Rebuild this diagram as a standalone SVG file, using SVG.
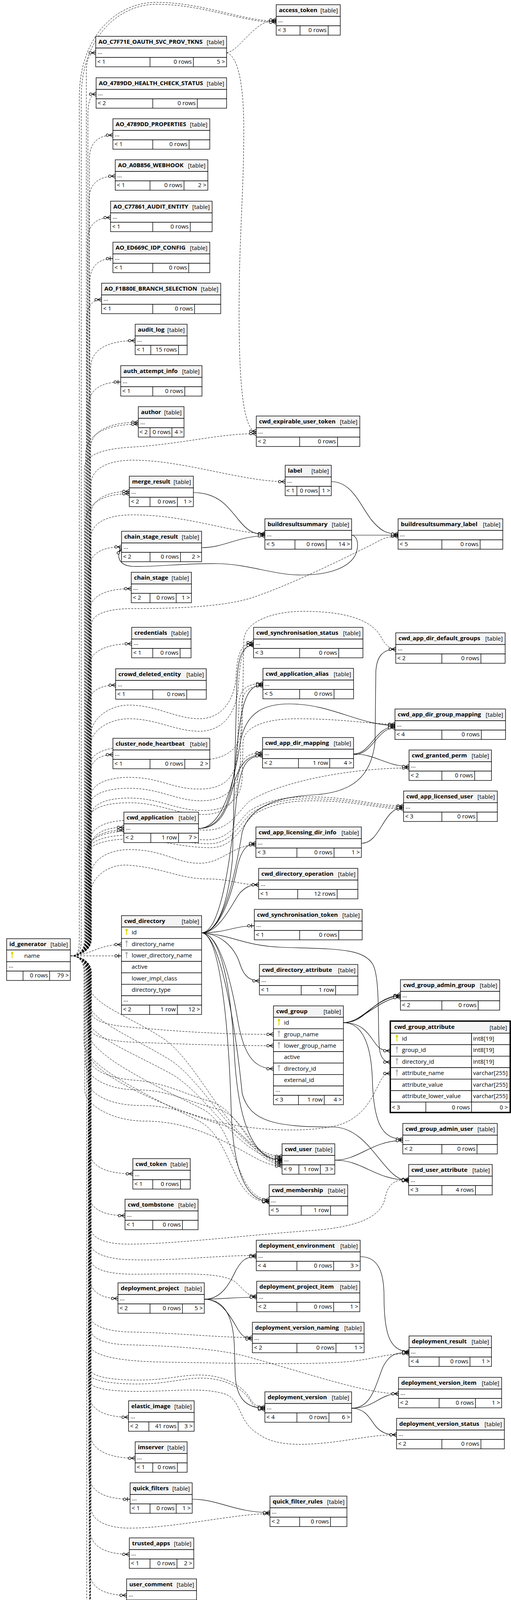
<svg xmlns="http://www.w3.org/2000/svg" xmlns:xlink="http://www.w3.org/1999/xlink" width="1308" height="4632" viewBox="0 0 1308 4632">
<style>
text{font-family:"Open Sans","Liberation Sans",sans-serif;font-size:15px;fill:#000}
.b{font-weight:bold}
.r{text-anchor:end}
.hd{fill:#f4f4f4;stroke:#000;stroke-width:1.4}
.cl{fill:#fff;stroke:#000;stroke-width:1.4}
.ln{stroke:#000;stroke-width:1.4;fill:none}
.e{fill:none;stroke:#000;stroke-width:1.2}
.d{stroke-dasharray:5,3;stroke-width:1}
.m{marker-end:url(#cr)}
.o{marker-end:url(#cb)}
.yk{fill:#e0d800}
.gk{fill:#b4b4b4}
</style>
<defs>
<marker id="cr" markerUnits="userSpaceOnUse" markerWidth="20" markerHeight="14" viewBox="0 0 20 14" refX="20" refY="7" orient="auto">
<path d="M10,7 L20,1.5 M10,7 L20,12.5 M10,7 L20,7" fill="none" stroke="#000" stroke-width="1.3"/>
<circle cx="6" cy="7" r="3.2" fill="#fff" stroke="#000" stroke-width="1.3"/>
</marker>
<marker id="cb" markerUnits="userSpaceOnUse" markerWidth="20" markerHeight="14" viewBox="0 0 20 14" refX="20" refY="7" orient="auto">
<path d="M9,7 L20,7 M13,1.5 L13,12.5" fill="none" stroke="#000" stroke-width="1.5"/>
<circle cx="6" cy="7" r="3.2" fill="#fff" stroke="#000" stroke-width="1.3"/>
</marker>
<g id="ky"><ellipse cx="0" cy="0" rx="2.8" ry="3.4"/><rect x="-1.1" y="2" width="2.2" height="11"/></g>
</defs>
<rect x="0" y="0" width="1308" height="4632" fill="#fff"/>

<g id="edges">
<path class="e d m" d="M181,2447 C198,2447 203,2437 203,2405 L203,250 C203,90 300,6 400,6 C520,6 620,54 707,54"/>
<path class="e d m" d="M181,2447 C198,2447 208,2437 208,2405 L208,250 C208,95 305,11 400,11 C520,11 620,57 707,57"/>
<path class="e d m" d="M580,135 C615,130 650,51 707,51"/>
<path class="e d m" d="M580,135 C602,140 624,190 624,330 C624,500 612,600 612,800 C612,1000 625,1104 656,1104"/>
<path class="e d m" d="M181,2447 C198,2447 216,2437 216,2405 L216,1200 C216,1165 260,1150 330,1145 C460,1138 560,1110 656,1110"/>
<path class="e d m" d="M181,2447 C198,2447 221,2437 221,2405 L221,185 C221,152 229,135 245,135"/>
<path class="e d m" d="M181,2447 C198,2447 225,2437 225,2405 L225,296 C225,260 232,241 246,241"/>
<path class="e d m" d="M181,2447 C198,2447 229,2437 229,2405 L229,406 C229,367 250,346 289,346"/>
<path class="e d m" d="M181,2447 C198,2447 228,2437 228,2405 L228,511 C228,472 251,451 295,451"/>
<path class="e d m" d="M181,2447 C198,2447 224,2437 224,2405 L224,617 C224,578 245,557 283,557"/>
<path class="e d o" d="M181,2447 C198,2447 230,2437 230,2405 L230,722 C230,683 251,662 289,662"/>
<path class="e d m" d="M181,2447 C198,2447 222,2437 222,2405 L222,817 C222,785 235,767 260,767"/>
<path class="e d m" d="M181,2447 C198,2447 232,2437 232,2405 L232,942 C232,897 272,872 346,872"/>
<path class="e d o" d="M181,2447 C198,2447 226,2437 226,2405 L226,1043 C226,1000 255,978 309,978"/>
<path class="e d m" d="M181,2447 C198,2447 231,2437 231,2405 L231,1151 C231,1106 274,1081 354,1081"/>
<path class="e d m" d="M181,2447 C198,2447 219,2437 219,2405 L219,1166 C219,1114 267,1086 354,1086"/>
<path class="e d m" d="M181,2447 C198,2447 233,2437 233,2405 L233,1240 C233,1198 280,1178 340,1178 C470,1178 620,1233 730,1233"/>
<path class="e d m" d="M181,2447 C198,2447 230,2437 230,2405 L230,1328 C230,1283 265,1258 331,1258"/>
<path class="e d m" d="M181,2447 C198,2447 218,2437 218,2405 L218,1344 C218,1292 258,1264 331,1264"/>
<path class="e d m" d="M181,2447 C198,2447 232,2437 232,2405 L232,1380 C232,1335 280,1318 340,1318 C480,1318 600,1366 678,1366"/>
<path class="e d m" d="M181,2447 C198,2447 227,2437 227,2405 L227,1460 C227,1421 256,1400 311,1400"/>
<path class="e d m" d="M181,2447 C198,2447 229,2437 229,2405 L229,1567 C229,1528 266,1507 336,1507"/>
<path class="e d m" d="M181,2447 C198,2447 234,2437 234,2405 L234,1600 C234,1570 280,1558 340,1558 C500,1558 600,1548 660,1525 C760,1490 900,1420 960,1390 C985,1375 1000,1373 1019,1373"/>
<path class="e d m" d="M181,2447 C198,2447 226,2437 226,2405 L226,1713 C226,1671 265,1648 337,1648"/>
<path class="e d m" d="M181,2447 C198,2447 233,2437 233,2405 L233,1880 C233,1840 280,1805 330,1805 C400,1805 450,1840 510,1840 C570,1840 598,1790 604,1740 C606,1680 615,1645 649,1645"/>
<path class="e d m" d="M181,2447 C198,2447 231,2437 231,2405 L231,1910 C231,1870 280,1840 330,1840 C400,1840 450,1872 510,1872 C575,1872 605,1820 610,1760 C614,1690 620,1650 649,1650"/>
<path class="e d m" d="M181,2447 C198,2447 230,2437 230,2405 L230,1960 C230,1925 280,1912 330,1912 C410,1912 450,1945 515,1945 C585,1945 618,1910 620,1860 L624,1640 C626,1590 700,1565 776,1565 C880,1565 950,1585 975,1630 C988,1655 1000,1662 1013,1662"/>
<path class="e d m" d="M181,2447 C198,2447 223,2437 223,2405 L223,1814 C223,1775 249,1754 296,1754"/>
<path class="e d m" d="M181,2447 C198,2447 232,2437 232,2405 L232,2040 C232,2005 280,1990 330,1990 C410,1990 440,2020 510,2020 C575,2020 600,1990 607,1940 L612,1800 C614,1765 630,1750 673,1750"/>
<path class="e d m" d="M181,2447 C198,2447 229,2437 229,2405 L229,2065 C229,2030 280,2018 330,2018 C410,2018 450,2050 515,2050 C585,2050 610,2010 615,1960 L618,1810 C620,1770 635,1756 673,1756"/>
<path class="e d m" d="M181,2447 C198,2447 233,2437 233,2405 L233,2090 C233,2055 280,2043 330,2043 C410,2043 450,2075 520,2075 C590,2075 618,2040 620,1990 L622,1900 C624,1860 680,1840 760,1840 C880,1840 950,1854 1011,1854"/>
<path class="e d m" d="M181,2447 C198,2447 228,2437 228,2405 L228,1992 C228,1953 249,1932 289,1932"/>
<path class="e d m" d="M181,2447 C198,2447 227,2437 227,2405 L227,2100 C227,2065 280,2055 330,2055 C410,2055 450,2085 520,2085 C590,2085 606,2040 608,2000 C610,1950 625,1927 672,1927"/>
<path class="e d m" d="M181,2447 C198,2447 232,2437 232,2405 L232,2150 C232,2115 280,2100 330,2100 C410,2100 460,2125 530,2125 C590,2125 610,2075 640,2050 C720,2000 900,1966 1047,1966"/>
<path class="e d m" d="M181,2447 C198,2447 229,2437 229,2405 L229,2170 C229,2140 280,2128 330,2128 C410,2128 460,2150 530,2150 C590,2150 610,2100 640,2075 C690,2045 740,2040 790,2040 C900,2040 960,2063 1033,2063"/>
<path class="e d m" d="M181,2447 C198,2447 225,2437 225,2405 L225,2180 C225,2150 280,2138 330,2138 C410,2138 460,2160 535,2160 C595,2160 615,2105 645,2080 C695,2050 745,2045 795,2045 C905,2045 965,2067 1033,2067"/>
<path class="e d m" d="M181,2447 C198,2447 221,2437 221,2405 L221,2190 C221,2160 280,2148 330,2148 C410,2148 460,2170 540,2170 C600,2170 620,2110 650,2085 C700,2055 750,2050 800,2050 C910,2050 970,2071 1033,2071"/>
<path class="e d m" d="M181,2447 C198,2447 230,2437 230,2405 L230,2178 C230,2139 260,2118 317,2118"/>
<path class="e d m" d="M181,2447 C198,2447 220,2437 220,2405 L220,2195 C220,2150 254,2125 317,2125"/>
<path class="e d m" d="M181,2447 C198,2447 233,2437 233,2405 L233,2240 C233,2200 280,2175 330,2175 C420,2175 450,2210 510,2210 C570,2210 595,2163 655,2163"/>
<path class="e d m" d="M181,2447 C198,2447 231,2437 231,2405 L231,2290 C231,2245 280,2210 330,2215 C420,2222 460,2250 530,2250 C590,2250 610,2265 662,2265"/>
<path class="e d m" d="M181,2447 C230,2447 250,2418 311,2418"/>
<path class="e d o" d="M181,2447 L311,2447"/>
<path class="e d m" d="M181,2447 C198,2447 234,2457 234,2489 L234,2590 C234,2612 270,2625 340,2630 C450,2640 560,2648 700,2648"/>
<path class="e d m" d="M181,2447 C198,2447 231,2457 231,2489 L231,2630 C231,2652 270,2665 340,2668 C450,2672 560,2677 700,2677"/>
<path class="e d m" d="M181,2447 C198,2447 229,2457 229,2489 L229,2700 C229,2740 400,2830 550,2870 C650,2895 780,2900 860,2882 C940,2862 960,2790 975,2765 C982,2753 990,2748 999,2748"/>
<path class="e d m" d="M181,2447 C198,2447 228,2457 228,2489 L228,2520 C228,2570 330,2600 420,2660 C520,2730 600,2960 722,2960"/>
<path class="e d m" d="M181,2447 C198,2447 224,2457 224,2489 L224,2560 C224,2610 330,2650 430,2710 C530,2770 610,2964 722,2964"/>
<path class="e d m" d="M181,2447 C198,2447 221,2457 221,2489 L221,2600 C221,2650 330,2690 440,2750 C540,2810 615,2968 722,2968"/>
<path class="e d m" d="M181,2447 C198,2447 226,2457 226,2489 L226,2700 C226,2740 280,2760 340,2765 C420,2770 470,2800 540,2820 C620,2845 640,2972 722,2972"/>
<path class="e d m" d="M181,2447 C198,2447 219,2457 219,2489 L219,2720 C219,2760 280,2790 350,2790 C430,2790 480,2820 560,2840 C630,2860 650,2976 722,2976"/>
<path class="e d m" d="M181,2447 C198,2447 223,2457 223,2489 L223,2760 C223,2800 280,2830 360,2830 C450,2830 500,2860 570,2880 C640,2900 660,2980 722,2980"/>
<path class="e d m" d="M181,2447 C198,2447 217,2457 217,2489 L217,2790 C217,2830 290,2870 370,2870 C460,2870 530,2900 590,2930 C650,2960 680,2985 722,2985"/>
<path class="e d m" d="M181,2447 C198,2447 225,2457 225,2489 L225,2640 C225,2700 400,2780 520,2840 C610,2890 600,3071 689,3071"/>
<path class="e d m" d="M181,2447 C198,2447 215,2457 215,2489 L215,2670 C215,2730 390,2810 510,2870 C600,2920 590,3077 689,3077"/>
<path class="e d m" d="M181,2447 C198,2447 229,2457 229,2489 L229,2945 C229,2984 268,3005 340,3005"/>
<path class="e d m" d="M181,2447 C198,2447 226,2457 226,2489 L226,3052 C226,3091 259,3112 320,3112"/>
<path class="e d m" d="M181,2447 C198,2447 232,2457 232,2489 L232,3140 C232,3175 280,3185 330,3185 C450,3185 650,3160 800,3150 C930,3140 975,3110 985,3070 C992,3035 1005,3019 1046,3019"/>
<path class="e d m" d="M181,2447 C198,2447 230,2457 230,2489 L230,3180 C230,3210 280,3225 340,3225 C450,3228 550,3214 656,3214"/>
<path class="e d m" d="M181,2447 C198,2447 228,2457 228,2489 L228,3264 C228,3303 254,3324 302,3324"/>
<path class="e d m" d="M181,2447 C198,2447 233,2457 233,2489 L233,3225 C233,3250 280,3262 340,3262 C450,3262 560,3255 600,3280 C625,3300 630,3318 657,3318"/>
<path class="e d m" d="M181,2447 C198,2447 231,2457 231,2489 L231,3370 C231,3395 280,3410 340,3410 C460,3413 560,3424 646,3424"/>
<path class="e d m" d="M181,2447 C198,2447 233,2457 233,2489 L233,3405 C233,3430 280,3443 340,3443 C470,3447 570,3455 640,3475 C800,3520 940,3568 1020,3568"/>
<path class="e d m" d="M181,2447 C198,2447 229,2457 229,2489 L229,3440 C229,3470 300,3485 420,3487 C600,3490 800,3495 900,3485 C960,3478 990,3465 1047,3465"/>
<path class="e d m" d="M181,2447 C198,2447 231,2457 231,2489 L231,3505 C231,3525 290,3533 350,3533 C430,3533 460,3520 510,3520 C570,3520 620,3545 640,3580 C650,3598 660,3602 678,3602"/>
<path class="e d m" d="M181,2447 C198,2447 227,2457 227,2489 L227,3515 C227,3535 290,3543 350,3543 C430,3543 465,3528 515,3528 C575,3528 622,3553 642,3588 C652,3603 662,3608 678,3608"/>
<path class="e d m" d="M181,2447 C198,2447 233,2457 233,2489 L233,3540 C233,3555 290,3562 350,3562 C450,3562 520,3550 580,3570 C620,3590 610,3640 660,3670 C700,3700 760,3700 820,3695 C900,3688 950,3673 1015,3673"/>
<path class="e d m" d="M181,2447 C198,2447 226,2457 226,2489 L226,3563 C226,3605 262,3628 329,3628"/>
<path class="e d m" d="M181,2447 C198,2447 229,2457 229,2489 L229,3663 C229,3708 270,3733 346,3733"/>
<path class="e d o" d="M181,2447 C198,2447 227,2457 227,2489 L227,3773 C227,3815 264,3838 333,3838"/>
<path class="e d m" d="M181,2447 C198,2447 233,2457 233,2489 L233,3860 C233,3895 280,3912 330,3912 C450,3912 600,3875 691,3875"/>
<path class="e d m" d="M181,2447 C198,2447 230,2457 230,2489 L230,3914 C230,3956 265,3979 331,3979"/>
<path class="e d m" d="M181,2447 C198,2447 228,2457 228,2489 L228,4019 C228,4061 262,4084 324,4084"/>
<path class="e d m" d="M181,2447 C198,2447 231,2457 231,2489 L231,4125 C231,4167 268,4190 337,4190"/>
<path class="e d m" d="M181,2447 C198,2447 232,2457 232,2489 L232,4225 C232,4260 280,4272 330,4272 C450,4272 600,4272 660,4285 C690,4292 705,4295 730,4295"/>
<path class="e d m" d="M181,2447 C198,2447 229,2457 229,2489 L229,4266 C229,4308 265,4331 333,4331"/>
<path class="e d m" d="M181,2447 C198,2447 231,2457 231,2489 L231,4372 C231,4411 258,4432 307,4432"/>
<path class="e d m" d="M181,2447 C198,2447 222,2457 222,2489 L222,4367 C222,4412 252,4437 307,4437"/>
<path class="e d o" d="M181,2447 C198,2447 230,2457 230,2489 L230,4477 C230,4519 257,4542 306,4542"/>
<path class="e m" d="M495,1261 C560,1261 585,1300 610,1330 C630,1355 645,1368 678,1368"/>
<path class="e m" d="M516,1402 C575,1402 610,1372 678,1372"/>
<path class="e m" d="M900,1370 L1019,1370"/>
<path class="e m" d="M848,1233 C900,1233 920,1290 950,1330 C975,1360 990,1367 1019,1367"/>
<path class="e m" d="M900,1370 C915,1372 920,1395 910,1420 C895,1450 850,1472 770,1472 C700,1472 640,1445 560,1443 C470,1441 400,1452 340,1450 C305,1448 296,1425 311,1404"/>
<path class="e m" d="M508,2121 C560,2121 580,2080 595,2020 C610,1960 630,1932 672,1932"/>
<path class="e m" d="M508,2121 C565,2121 590,2060 603,1950 C616,1800 630,1753 673,1753"/>
<path class="e m" d="M508,2121 C570,2121 600,2000 615,1900 C630,1820 680,1802 740,1802 C850,1802 920,1857 1011,1857"/>
<path class="e m" d="M516,2388 C560,2388 585,2300 595,2200 L606,1760 C608,1680 620,1652 649,1652"/>
<path class="e m" d="M905,1930 C950,1930 960,1860 1011,1860"/>
<path class="e m" d="M905,1932 C955,1932 965,1863 1011,1863"/>
<path class="e m" d="M905,1930 C960,1930 990,1962 1047,1962"/>
<path class="e m" d="M516,2388 C570,2388 600,2250 620,2130 C640,2060 720,2040 800,2035 C900,2030 950,1990 960,1900 L962,1720 C964,1680 980,1662 1013,1662"/>
<path class="e m" d="M516,2388 C565,2388 590,2200 605,2050 C615,1960 630,1935 672,1935"/>
<path class="e m" d="M516,2388 C560,2388 590,2300 605,2230 C615,2180 630,2159 655,2159"/>
<path class="e m" d="M516,2388 C565,2388 600,2300 615,2285 C630,2270 640,2265 662,2265"/>
<path class="e o" d="M516,2388 C580,2388 600,2370 651,2370"/>
<path class="e m" d="M516,2388 C560,2390 600,2420 615,2470 C625,2500 640,2511 664,2511"/>
<path class="e m" d="M516,2388 C560,2390 590,2500 610,2620 C625,2700 650,2736 700,2736"/>
<path class="e m" d="M516,2388 C600,2395 620,2420 720,2425 C850,2430 930,2425 955,2470 C975,2510 965,2650 972,2690 C976,2710 985,2719 999,2719"/>
<path class="e m" d="M516,2388 C560,2390 590,2500 600,2700 C610,2880 650,2970 722,2970"/>
<path class="e m" d="M516,2388 C560,2390 600,2600 620,2800 C640,2870 700,2885 850,2885 C950,2885 980,3023 1046,3023"/>
<path class="e m" d="M516,2388 C560,2390 585,2600 592,2850 C598,3000 630,3075 689,3075"/>
<path class="e m" d="M879,2618 C930,2618 945,2650 960,2670 C970,2685 980,2690 999,2690"/>
<path class="e m" d="M879,2618 C940,2618 945,2560 1025,2546"/>
<path class="e m" d="M879,2618 C930,2618 960,2552 1025,2550"/>
<path class="e m" d="M879,2618 C925,2618 970,2556 1025,2553"/>
<path class="e m" d="M879,2618 C930,2618 950,2680 953,2760 C956,2880 980,2916 1031,2916"/>
<path class="e m" d="M857,2970 C920,2970 950,2920 1031,2920"/>
<path class="e m" d="M857,2970 C930,2970 960,3021 1046,3021"/>
<path class="e m" d="M925,2159 C975,2159 980,2067 1033,2067"/>
<path class="e m" d="M523,3326 C570,3326 590,3280 605,3250 C620,3225 630,3217 656,3217"/>
<path class="e m" d="M523,3326 C580,3325 600,3321 657,3321"/>
<path class="e m" d="M523,3326 C570,3326 595,3380 610,3405 C620,3420 630,3428 646,3428"/>
<path class="e m" d="M523,3326 C580,3326 598,3380 600,3450 L602,3520 C605,3580 630,3605 678,3605"/>
<path class="e m" d="M922,3217 C970,3217 983,3260 983,3320 C983,3420 1000,3460 1047,3460"/>
<path class="e m" d="M900,3605 C950,3605 960,3550 980,3500 C995,3470 1010,3462 1047,3462"/>
<path class="e m" d="M900,3605 C960,3605 970,3568 1020,3568"/>
<path class="e m" d="M900,3605 C940,3605 950,3640 965,3655 C980,3670 995,3673 1015,3673"/>
<path class="e m" d="M492,3838 C560,3838 600,3872 691,3872"/>
<path class="e m" d="M492,4331 C580,4331 630,4295 730,4295"/>
</g>

<g id="access_token"><rect class="hd" x="707" y="12" width="164" height="30"/><rect class="cl" x="707" y="42" width="164" height="24"/><rect class="cl" x="707" y="66" width="164" height="24"/><path class="ln" d="M768,66v24M840,66v24"/><text class="b" x="714" y="31">access_token</text><text class="r" x="865" y="32">[table]</text><text x="712" y="57">...</text><text x="711" y="82">&lt; 3</text><text class="r" x="836" y="82">0 rows</text></g>
<g id="AO_C7F71E_OAUTH_SVC_PROV_TKNS"><rect class="hd" x="245" y="93" width="335" height="30"/><rect class="cl" x="245" y="123" width="335" height="24"/><rect class="cl" x="245" y="147" width="335" height="24"/><path class="ln" d="M384,147v24M495,147v24"/><text class="b" x="252" y="112">AO_C7F71E_OAUTH_SVC_PROV_TKNS</text><text class="r" x="574" y="113">[table]</text><text x="250" y="138">...</text><text x="249" y="163">&lt; 1</text><text class="r" x="491" y="163">0 rows</text><text class="r" x="576" y="163">5 &gt;</text></g>
<g id="AO_4789DD_HEALTH_CHECK_STATUS"><rect class="hd" x="246" y="199" width="334" height="30"/><rect class="cl" x="246" y="229" width="334" height="24"/><rect class="cl" x="246" y="253" width="334" height="24"/><path class="ln" d="M391,253v24M505,253v24"/><text class="b" x="253" y="218">AO_4789DD_HEALTH_CHECK_STATUS</text><text class="r" x="574" y="219">[table]</text><text x="251" y="244">...</text><text x="250" y="269">&lt; 2</text><text class="r" x="501" y="269">0 rows</text></g>
<g id="AO_4789DD_PROPERTIES"><rect class="hd" x="289" y="304" width="248" height="30"/><rect class="cl" x="289" y="334" width="248" height="24"/><rect class="cl" x="289" y="358" width="248" height="24"/><path class="ln" d="M391,358v24M484,358v24"/><text class="b" x="296" y="323">AO_4789DD_PROPERTIES</text><text class="r" x="531" y="324">[table]</text><text x="294" y="349">...</text><text x="293" y="374">&lt; 1</text><text class="r" x="480" y="374">0 rows</text></g>
<g id="AO_A0B856_WEBHOOK"><rect class="hd" x="295" y="409" width="237" height="30"/><rect class="cl" x="295" y="439" width="237" height="24"/><rect class="cl" x="295" y="463" width="237" height="24"/><path class="ln" d="M384,463v24M471,463v24"/><text class="b" x="302" y="428">AO_A0B856_WEBHOOK</text><text class="r" x="526" y="429">[table]</text><text x="300" y="454">...</text><text x="299" y="479">&lt; 1</text><text class="r" x="467" y="479">0 rows</text><text class="r" x="528" y="479">2 &gt;</text></g>
<g id="AO_C77861_AUDIT_ENTITY"><rect class="hd" x="283" y="515" width="260" height="30"/><rect class="cl" x="283" y="545" width="260" height="24"/><rect class="cl" x="283" y="569" width="260" height="24"/><path class="ln" d="M391,569v24M487,569v24"/><text class="b" x="290" y="534">AO_C77861_AUDIT_ENTITY</text><text class="r" x="537" y="535">[table]</text><text x="288" y="560">...</text><text x="287" y="585">&lt; 1</text><text class="r" x="483" y="585">0 rows</text></g>
<g id="AO_ED669C_IDP_CONFIG"><rect class="hd" x="289" y="620" width="248" height="30"/><rect class="cl" x="289" y="650" width="248" height="24"/><rect class="cl" x="289" y="674" width="248" height="24"/><path class="ln" d="M391,674v24M483,674v24"/><text class="b" x="296" y="639">AO_ED669C_IDP_CONFIG</text><text class="r" x="531" y="640">[table]</text><text x="294" y="665">...</text><text x="293" y="690">&lt; 1</text><text class="r" x="479" y="690">0 rows</text></g>
<g id="AO_F1B80E_BRANCH_SELECTION"><rect class="hd" x="260" y="725" width="305" height="30"/><rect class="cl" x="260" y="755" width="305" height="24"/><rect class="cl" x="260" y="779" width="305" height="24"/><path class="ln" d="M391,779v24M498,779v24"/><text class="b" x="267" y="744">AO_F1B80E_BRANCH_SELECTION</text><text class="r" x="559" y="745">[table]</text><text x="265" y="770">...</text><text x="264" y="795">&lt; 1</text><text class="r" x="494" y="795">0 rows</text></g>
<g id="audit_log"><rect class="hd" x="346" y="830" width="133" height="30"/><rect class="cl" x="346" y="860" width="133" height="24"/><rect class="cl" x="346" y="884" width="133" height="24"/><path class="ln" d="M386,884v24M457,884v24"/><text class="b" x="353" y="849">audit_log</text><text class="r" x="473" y="850">[table]</text><text x="351" y="875">...</text><text x="350" y="900">&lt; 1</text><text class="r" x="453" y="900">15 rows</text></g>
<g id="auth_attempt_info"><rect class="hd" x="309" y="936" width="208" height="30"/><rect class="cl" x="309" y="966" width="208" height="24"/><rect class="cl" x="309" y="990" width="208" height="24"/><path class="ln" d="M391,990v24M473,990v24"/><text class="b" x="316" y="955">auth_attempt_info</text><text class="r" x="511" y="956">[table]</text><text x="314" y="981">...</text><text x="313" y="1006">&lt; 1</text><text class="r" x="469" y="1006">0 rows</text></g>
<g id="author"><rect class="hd" x="354" y="1041" width="117" height="30"/><rect class="cl" x="354" y="1071" width="117" height="24"/><rect class="cl" x="354" y="1095" width="117" height="24"/><path class="ln" d="M384,1095v24M440,1095v24"/><text class="b" x="361" y="1060">author</text><text class="r" x="465" y="1061">[table]</text><text x="359" y="1086">...</text><text x="357" y="1111">&lt; 2</text><text class="r" x="437" y="1111">0 rows</text><text class="r" x="468" y="1111">4 &gt;</text></g>
<g id="cwd_expirable_user_token"><rect class="hd" x="656" y="1065" width="265" height="30"/><rect class="cl" x="656" y="1095" width="265" height="24"/><rect class="cl" x="656" y="1119" width="265" height="24"/><path class="ln" d="M767,1119v24M864,1119v24"/><text class="b" x="663" y="1084">cwd_expirable_user_token</text><text class="r" x="915" y="1085">[table]</text><text x="661" y="1110">...</text><text x="660" y="1135">&lt; 2</text><text class="r" x="860" y="1135">0 rows</text></g>
<g id="label"><rect class="hd" x="730" y="1191" width="118" height="30"/><rect class="cl" x="730" y="1221" width="118" height="24"/><rect class="cl" x="730" y="1245" width="118" height="24"/><path class="ln" d="M760,1245v24M817,1245v24"/><text class="b" x="737" y="1210">label</text><text class="r" x="842" y="1211">[table]</text><text x="735" y="1236">...</text><text x="733" y="1261">&lt; 1</text><text class="r" x="814" y="1261">0 rows</text><text class="r" x="845" y="1261">1 &gt;</text></g>
<g id="merge_result"><rect class="hd" x="331" y="1219" width="164" height="30"/><rect class="cl" x="331" y="1249" width="164" height="24"/><rect class="cl" x="331" y="1273" width="164" height="24"/><path class="ln" d="M384,1273v24M454,1273v24"/><text class="b" x="338" y="1238">merge_result</text><text class="r" x="489" y="1239">[table]</text><text x="336" y="1264">...</text><text x="335" y="1289">&lt; 2</text><text class="r" x="450" y="1289">0 rows</text><text class="r" x="491" y="1289">1 &gt;</text></g>
<g id="buildresultsummary"><rect class="hd" x="678" y="1328" width="222" height="30"/><rect class="cl" x="678" y="1358" width="222" height="24"/><rect class="cl" x="678" y="1382" width="222" height="24"/><path class="ln" d="M755,1382v24M835,1382v24"/><text class="b" x="685" y="1347">buildresultsummary</text><text class="r" x="894" y="1348">[table]</text><text x="683" y="1373">...</text><text x="682" y="1398">&lt; 5</text><text class="r" x="831" y="1398">0 rows</text><text class="r" x="896" y="1398">14 &gt;</text></g>
<g id="buildresultsummary_label"><rect class="hd" x="1019" y="1328" width="268" height="30"/><rect class="cl" x="1019" y="1358" width="268" height="24"/><rect class="cl" x="1019" y="1382" width="268" height="24"/><path class="ln" d="M1131,1382v24M1229,1382v24"/><text class="b" x="1026" y="1347">buildresultsummary_label</text><text class="r" x="1281" y="1348">[table]</text><text x="1024" y="1373">...</text><text x="1023" y="1398">&lt; 5</text><text class="r" x="1225" y="1398">0 rows</text></g>
<g id="chain_stage_result"><rect class="hd" x="311" y="1360" width="205" height="30"/><rect class="cl" x="311" y="1390" width="205" height="24"/><rect class="cl" x="311" y="1414" width="205" height="24"/><path class="ln" d="M384,1414v24M462,1414v24"/><text class="b" x="318" y="1379">chain_stage_result</text><text class="r" x="510" y="1380">[table]</text><text x="316" y="1405">...</text><text x="315" y="1430">&lt; 2</text><text class="r" x="458" y="1430">0 rows</text><text class="r" x="512" y="1430">2 &gt;</text></g>
<g id="chain_stage"><rect class="hd" x="336" y="1465" width="154" height="30"/><rect class="cl" x="336" y="1495" width="154" height="24"/><rect class="cl" x="336" y="1519" width="154" height="24"/><path class="ln" d="M384,1519v24M451,1519v24"/><text class="b" x="343" y="1484">chain_stage</text><text class="r" x="484" y="1485">[table]</text><text x="341" y="1510">...</text><text x="340" y="1535">&lt; 2</text><text class="r" x="447" y="1535">0 rows</text><text class="r" x="486" y="1535">1 &gt;</text></g>
<g id="credentials"><rect class="hd" x="337" y="1606" width="152" height="30"/><rect class="cl" x="337" y="1636" width="152" height="24"/><rect class="cl" x="337" y="1660" width="152" height="24"/><path class="ln" d="M391,1660v24M461,1660v24"/><text class="b" x="344" y="1625">credentials</text><text class="r" x="483" y="1626">[table]</text><text x="342" y="1651">...</text><text x="341" y="1676">&lt; 1</text><text class="r" x="457" y="1676">0 rows</text></g>
<g id="cwd_synchronisation_status"><rect class="hd" x="649" y="1606" width="280" height="30"/><rect class="cl" x="649" y="1636" width="280" height="24"/><rect class="cl" x="649" y="1660" width="280" height="24"/><path class="ln" d="M767,1660v24M867,1660v24"/><text class="b" x="656" y="1625">cwd_synchronisation_status</text><text class="r" x="923" y="1626">[table]</text><text x="654" y="1651">...</text><text x="653" y="1676">&lt; 3</text><text class="r" x="863" y="1676">0 rows</text></g>
<g id="cwd_app_dir_default_groups"><rect class="hd" x="1013" y="1620" width="280" height="30"/><rect class="cl" x="1013" y="1650" width="280" height="24"/><rect class="cl" x="1013" y="1674" width="280" height="24"/><path class="ln" d="M1131,1674v24M1231,1674v24"/><text class="b" x="1020" y="1639">cwd_app_dir_default_groups</text><text class="r" x="1287" y="1640">[table]</text><text x="1018" y="1665">...</text><text x="1017" y="1690">&lt; 2</text><text class="r" x="1227" y="1690">0 rows</text></g>
<g id="crowd_deleted_entity"><rect class="hd" x="296" y="1712" width="232" height="30"/><rect class="cl" x="296" y="1742" width="232" height="24"/><rect class="cl" x="296" y="1766" width="232" height="24"/><path class="ln" d="M391,1766v24M478,1766v24"/><text class="b" x="303" y="1731">crowd_deleted_entity</text><text class="r" x="522" y="1732">[table]</text><text x="301" y="1757">...</text><text x="300" y="1782">&lt; 1</text><text class="r" x="474" y="1782">0 rows</text></g>
<g id="cwd_application_alias"><rect class="hd" x="673" y="1711" width="232" height="30"/><rect class="cl" x="673" y="1741" width="232" height="24"/><rect class="cl" x="673" y="1765" width="232" height="24"/><path class="ln" d="M767,1765v24M855,1765v24"/><text class="b" x="680" y="1730">cwd_application_alias</text><text class="r" x="899" y="1731">[table]</text><text x="678" y="1756">...</text><text x="677" y="1781">&lt; 5</text><text class="r" x="851" y="1781">0 rows</text></g>
<g id="cwd_app_dir_group_mapping"><rect class="hd" x="1011" y="1815" width="283" height="30"/><rect class="cl" x="1011" y="1845" width="283" height="24"/><rect class="cl" x="1011" y="1869" width="283" height="24"/><path class="ln" d="M1131,1869v24M1232,1869v24"/><text class="b" x="1018" y="1834">cwd_app_dir_group_mapping</text><text class="r" x="1288" y="1835">[table]</text><text x="1016" y="1860">...</text><text x="1015" y="1885">&lt; 4</text><text class="r" x="1228" y="1885">0 rows</text></g>
<g id="cluster_node_heartbeat"><rect class="hd" x="289" y="1890" width="248" height="30"/><rect class="cl" x="289" y="1920" width="248" height="24"/><rect class="cl" x="289" y="1944" width="248" height="24"/><path class="ln" d="M384,1944v24M473,1944v24"/><text class="b" x="296" y="1909">cluster_node_heartbeat</text><text class="r" x="531" y="1910">[table]</text><text x="294" y="1935">...</text><text x="293" y="1960">&lt; 1</text><text class="r" x="469" y="1960">0 rows</text><text class="r" x="533" y="1960">2 &gt;</text></g>
<g id="cwd_app_dir_mapping"><rect class="hd" x="672" y="1888" width="233" height="30"/><rect class="cl" x="672" y="1918" width="233" height="24"/><rect class="cl" x="672" y="1942" width="233" height="24"/><path class="ln" d="M764,1942v24M844,1942v24"/><text class="b" x="679" y="1907">cwd_app_dir_mapping</text><text class="r" x="899" y="1908">[table]</text><text x="677" y="1933">...</text><text x="676" y="1958">&lt; 2</text><text class="r" x="840" y="1958">1 row</text><text class="r" x="901" y="1958">4 &gt;</text></g>
<g id="cwd_granted_perm"><rect class="hd" x="1047" y="1920" width="211" height="30"/><rect class="cl" x="1047" y="1950" width="211" height="24"/><rect class="cl" x="1047" y="1974" width="211" height="24"/><path class="ln" d="M1131,1974v24M1215,1974v24"/><text class="b" x="1054" y="1939">cwd_granted_perm</text><text class="r" x="1252" y="1940">[table]</text><text x="1052" y="1965">...</text><text x="1051" y="1990">&lt; 2</text><text class="r" x="1211" y="1990">0 rows</text></g>
<g id="cwd_app_licensed_user"><rect class="hd" x="1033" y="2025" width="240" height="30"/><rect class="cl" x="1033" y="2055" width="240" height="24"/><rect class="cl" x="1033" y="2079" width="240" height="24"/><path class="ln" d="M1131,2079v24M1221,2079v24"/><text class="b" x="1040" y="2044">cwd_app_licensed_user</text><text class="r" x="1267" y="2045">[table]</text><text x="1038" y="2070">...</text><text x="1037" y="2095">&lt; 3</text><text class="r" x="1217" y="2095">0 rows</text></g>
<g id="cwd_application"><rect class="hd" x="317" y="2079" width="191" height="30"/><rect class="cl" x="317" y="2109" width="191" height="24"/><rect class="cl" x="317" y="2133" width="191" height="24"/><path class="ln" d="M386,2133v24M457,2133v24"/><text class="b" x="324" y="2098">cwd_application</text><text class="r" x="502" y="2099">[table]</text><text x="322" y="2124">...</text><text x="321" y="2149">&lt; 2</text><text class="r" x="453" y="2149">1 row</text><text class="r" x="504" y="2149">7 &gt;</text></g>
<g id="cwd_app_licensing_dir_info"><rect class="hd" x="655" y="2117" width="270" height="30"/><rect class="cl" x="655" y="2147" width="270" height="24"/><rect class="cl" x="655" y="2171" width="270" height="24"/><path class="ln" d="M760,2171v24M855,2171v24"/><text class="b" x="662" y="2136">cwd_app_licensing_dir_info</text><text class="r" x="919" y="2137">[table]</text><text x="660" y="2162">...</text><text x="659" y="2187">&lt; 3</text><text class="r" x="851" y="2187">0 rows</text><text class="r" x="921" y="2187">1 &gt;</text></g>
<g id="cwd_directory_operation"><rect class="hd" x="662" y="2223" width="254" height="30"/><rect class="cl" x="662" y="2253" width="254" height="24"/><rect class="cl" x="662" y="2277" width="254" height="24"/><path class="ln" d="M762,2277v24M863,2277v24"/><text class="b" x="669" y="2242">cwd_directory_operation</text><text class="r" x="910" y="2243">[table]</text><text x="667" y="2268">...</text><text x="666" y="2293">&lt; 1</text><text class="r" x="859" y="2293">12 rows</text></g>
<g id="cwd_synchronisation_token"><rect class="hd" x="651" y="2328" width="276" height="30"/><rect class="cl" x="651" y="2358" width="276" height="24"/><rect class="cl" x="651" y="2382" width="276" height="24"/><path class="ln" d="M767,2382v24M867,2382v24"/><text class="b" x="658" y="2347">cwd_synchronisation_token</text><text class="r" x="921" y="2348">[table]</text><text x="656" y="2373">...</text><text x="655" y="2398">&lt; 1</text><text class="r" x="863" y="2398">0 rows</text></g>
<g id="cwd_directory"><rect class="hd" x="311" y="2344" width="205" height="29.3"/><rect class="cl" x="311" y="2373.3" width="205" height="29.3"/><rect class="cl" x="311" y="2402.6" width="205" height="29.3"/><rect class="cl" x="311" y="2431.9" width="205" height="29.3"/><rect class="cl" x="311" y="2461.2" width="205" height="29.3"/><rect class="cl" x="311" y="2490.5" width="205" height="29.3"/><rect class="cl" x="311" y="2519.8" width="205" height="29.3"/><rect class="cl" x="311" y="2549.1" width="205" height="24"/><rect class="cl" x="311" y="2573.1" width="205" height="24"/><path class="ln" d="M383,2573.1v24M454,2573.1v24"/><text class="b" x="318" y="2363">cwd_directory</text><text class="r" x="510" y="2364">[table]</text><use xlink:href="#ky" class="yk" x="324" y="2381"/><use xlink:href="#ky" class="gk" x="324" y="2410.6"/><use xlink:href="#ky" class="gk" x="324" y="2439.9"/><text x="337" y="2392.3">id</text><text x="337" y="2421.6">directory_name</text><text x="337" y="2450.9">lower_directory_name</text><text x="337" y="2480.2">active</text><text x="337" y="2509.5">lower_impl_class</text><text x="337" y="2538.8">directory_type</text><text x="316" y="2564">...</text><text x="315" y="2589">&lt; 2</text><text class="r" x="450" y="2589">1 row</text><text class="r" x="512" y="2589">12 &gt;</text></g>
<g id="id_generator"><rect class="hd" x="17" y="2403" width="163" height="29"/><rect class="cl" x="17" y="2432" width="163" height="30"/><rect class="cl" x="17" y="2462" width="163" height="24"/><rect class="cl" x="17" y="2486" width="163" height="24"/><path class="ln" d="M59,2486v24M127,2486v24"/><text class="b" x="24" y="2422">id_generator</text><text class="r" x="174" y="2423">[table]</text><use xlink:href="#ky" class="yk" x="31" y="2440"/><text x="62" y="2452">name</text><text x="22" y="2477">...</text><text class="r" x="123" y="2502">0 rows</text><text class="r" x="176" y="2502">79 &gt;</text></g>
<g id="cwd_directory_attribute"><rect class="hd" x="664" y="2469" width="252" height="30"/><rect class="cl" x="664" y="2499" width="252" height="24"/><rect class="cl" x="664" y="2523" width="252" height="24"/><path class="ln" d="M771,2523v24M859,2523v24"/><text class="b" x="671" y="2488">cwd_directory_attribute</text><text class="r" x="910" y="2489">[table]</text><text x="669" y="2514">...</text><text x="668" y="2539">&lt; 1</text><text class="r" x="855" y="2539">1 row</text></g>
<g id="cwd_group_admin_group"><rect class="hd" x="1025" y="2508" width="254" height="30"/><rect class="cl" x="1025" y="2538" width="254" height="24"/><rect class="cl" x="1025" y="2562" width="254" height="24"/><path class="ln" d="M1131,2562v24M1224,2562v24"/><text class="b" x="1032" y="2527">cwd_group_admin_group</text><text class="r" x="1273" y="2528">[table]</text><text x="1030" y="2553">...</text><text x="1029" y="2578">&lt; 2</text><text class="r" x="1220" y="2578">0 rows</text></g>
<g id="cwd_group"><rect class="hd" x="700" y="2575" width="179" height="29.3"/><rect class="cl" x="700" y="2604.3" width="179" height="29.3"/><rect class="cl" x="700" y="2633.6" width="179" height="29.3"/><rect class="cl" x="700" y="2662.9" width="179" height="29.3"/><rect class="cl" x="700" y="2692.2" width="179" height="29.3"/><rect class="cl" x="700" y="2721.5" width="179" height="29.3"/><rect class="cl" x="700" y="2750.8" width="179" height="29.3"/><rect class="cl" x="700" y="2780.1" width="179" height="24"/><rect class="cl" x="700" y="2804.1" width="179" height="24"/><path class="ln" d="M764,2804.1v24M830,2804.1v24"/><text class="b" x="707" y="2594">cwd_group</text><text class="r" x="873" y="2595">[table]</text><use xlink:href="#ky" class="yk" x="714" y="2612"/><use xlink:href="#ky" class="gk" x="714" y="2641.3"/><use xlink:href="#ky" class="gk" x="714" y="2670.6"/><use xlink:href="#ky" class="gk" x="714" y="2729.2"/><text x="727" y="2623.3">id</text><text x="727" y="2652.6">group_name</text><text x="727" y="2681.9">lower_group_name</text><text x="727" y="2711.2">active</text><text x="727" y="2740.5">directory_id</text><text x="727" y="2769.8">external_id</text><text x="705" y="2795">...</text><text x="704" y="2820">&lt; 3</text><text class="r" x="826" y="2820">1 row</text><text class="r" x="875" y="2820">4 &gt;</text></g>
<g id="cwd_group_attribute"><rect class="hd" x="999" y="2614" width="307" height="31"/><rect class="cl" x="999" y="2645" width="208" height="29.4"/><rect class="cl" x="1207" y="2645" width="99" height="29.4"/><rect class="cl" x="999" y="2674.4" width="208" height="29.4"/><rect class="cl" x="1207" y="2674.4" width="99" height="29.4"/><rect class="cl" x="999" y="2703.8" width="208" height="29.4"/><rect class="cl" x="1207" y="2703.8" width="99" height="29.4"/><rect class="cl" x="999" y="2733.2" width="208" height="29.4"/><rect class="cl" x="1207" y="2733.2" width="99" height="29.4"/><rect class="cl" x="999" y="2762.6" width="208" height="29.4"/><rect class="cl" x="1207" y="2762.6" width="99" height="29.4"/><rect class="cl" x="999" y="2792" width="208" height="29.4"/><rect class="cl" x="1207" y="2792" width="99" height="29.4"/><rect class="cl" x="999" y="2821.4" width="307" height="26.6"/><path class="ln" d="M1090,2821.4v26.6M1207,2821.4v26.6"/><rect x="999" y="2614" width="307" height="234" fill="none" stroke="#000" stroke-width="3.5"/><text class="b" x="1009" y="2634">cwd_group_attribute</text><text class="r" x="1298" y="2636">[table]</text><use xlink:href="#ky" class="yk" x="1016" y="2653"/><use xlink:href="#ky" class="gk" x="1016" y="2682.4"/><use xlink:href="#ky" class="gk" x="1016" y="2711.8"/><use xlink:href="#ky" class="gk" x="1016" y="2741.2"/><text x="1029" y="2664">id</text><text x="1029" y="2693.4">group_id</text><text x="1029" y="2722.8">directory_id</text><text x="1029" y="2752.2">attribute_name</text><text x="1029" y="2781.6">attribute_value</text><text x="1029" y="2811">attribute_lower_value</text><text x="1211" y="2664">int8[19]</text><text x="1211" y="2693.4">int8[19]</text><text x="1211" y="2722.8">int8[19]</text><text x="1211" y="2752.2">varchar[255]</text><text x="1211" y="2781.6">varchar[255]</text><text x="1211" y="2811">varchar[255]</text><text x="1003" y="2840">&lt; 3</text><text class="r" x="1203" y="2840">0 rows</text><text class="r" x="1300" y="2840">0 &gt;</text></g>
<g id="cwd_group_admin_user"><rect class="hd" x="1031" y="2876" width="242" height="30"/><rect class="cl" x="1031" y="2906" width="242" height="24"/><rect class="cl" x="1031" y="2930" width="242" height="24"/><path class="ln" d="M1131,2930v24M1221,2930v24"/><text class="b" x="1038" y="2895">cwd_group_admin_user</text><text class="r" x="1267" y="2896">[table]</text><text x="1036" y="2921">...</text><text x="1035" y="2946">&lt; 2</text><text class="r" x="1217" y="2946">0 rows</text></g>
<g id="cwd_user"><rect class="hd" x="722" y="2928" width="135" height="30"/><rect class="cl" x="722" y="2958" width="135" height="24"/><rect class="cl" x="722" y="2982" width="135" height="24"/><path class="ln" d="M765,2982v24M820,2982v24"/><text class="b" x="729" y="2947">cwd_user</text><text class="r" x="851" y="2948">[table]</text><text x="727" y="2973">...</text><text x="726" y="2998">&lt; 9</text><text class="r" x="816" y="2998">1 row</text><text class="r" x="853" y="2998">3 &gt;</text></g>
<g id="cwd_user_attribute"><rect class="hd" x="1046" y="2981" width="214" height="30"/><rect class="cl" x="1046" y="3011" width="214" height="24"/><rect class="cl" x="1046" y="3035" width="214" height="24"/><path class="ln" d="M1131,3035v24M1217,3035v24"/><text class="b" x="1053" y="3000">cwd_user_attribute</text><text class="r" x="1254" y="3001">[table]</text><text x="1051" y="3026">...</text><text x="1050" y="3051">&lt; 3</text><text class="r" x="1213" y="3051">4 rows</text></g>
<g id="cwd_token"><rect class="hd" x="340" y="2966" width="147" height="30"/><rect class="cl" x="340" y="2996" width="147" height="24"/><rect class="cl" x="340" y="3020" width="147" height="24"/><path class="ln" d="M391,3020v24M462,3020v24"/><text class="b" x="347" y="2985">cwd_token</text><text class="r" x="481" y="2986">[table]</text><text x="345" y="3011">...</text><text x="344" y="3036">&lt; 1</text><text class="r" x="458" y="3036">0 rows</text></g>
<g id="cwd_membership"><rect class="hd" x="689" y="3033" width="201" height="30"/><rect class="cl" x="689" y="3063" width="201" height="24"/><rect class="cl" x="689" y="3087" width="201" height="24"/><path class="ln" d="M771,3087v24M846,3087v24"/><text class="b" x="696" y="3052">cwd_membership</text><text class="r" x="884" y="3053">[table]</text><text x="694" y="3078">...</text><text x="693" y="3103">&lt; 5</text><text class="r" x="842" y="3103">1 row</text></g>
<g id="cwd_tombstone"><rect class="hd" x="320" y="3070" width="187" height="30"/><rect class="cl" x="320" y="3100" width="187" height="24"/><rect class="cl" x="320" y="3124" width="187" height="24"/><path class="ln" d="M391,3124v24M467,3124v24"/><text class="b" x="327" y="3089">cwd_tombstone</text><text class="r" x="501" y="3090">[table]</text><text x="325" y="3115">...</text><text x="324" y="3140">&lt; 1</text><text class="r" x="463" y="3140">0 rows</text></g>
<g id="deployment_environment"><rect class="hd" x="656" y="3175" width="266" height="30"/><rect class="cl" x="656" y="3205" width="266" height="24"/><rect class="cl" x="656" y="3229" width="266" height="24"/><path class="ln" d="M760,3229v24M854,3229v24"/><text class="b" x="663" y="3194">deployment_environment</text><text class="r" x="916" y="3195">[table]</text><text x="661" y="3220">...</text><text x="660" y="3245">&lt; 4</text><text class="r" x="850" y="3245">0 rows</text><text class="r" x="918" y="3245">3 &gt;</text></g>
<g id="deployment_project"><rect class="hd" x="302" y="3284" width="221" height="30"/><rect class="cl" x="302" y="3314" width="221" height="24"/><rect class="cl" x="302" y="3338" width="221" height="24"/><path class="ln" d="M384,3338v24M467,3338v24"/><text class="b" x="309" y="3303">deployment_project</text><text class="r" x="517" y="3304">[table]</text><text x="307" y="3329">...</text><text x="306" y="3354">&lt; 2</text><text class="r" x="463" y="3354">0 rows</text><text class="r" x="519" y="3354">5 &gt;</text></g>
<g id="deployment_project_item"><rect class="hd" x="657" y="3280" width="264" height="30"/><rect class="cl" x="657" y="3310" width="264" height="24"/><rect class="cl" x="657" y="3334" width="264" height="24"/><path class="ln" d="M760,3334v24M854,3334v24"/><text class="b" x="664" y="3299">deployment_project_item</text><text class="r" x="915" y="3300">[table]</text><text x="662" y="3325">...</text><text x="661" y="3350">&lt; 2</text><text class="r" x="850" y="3350">0 rows</text><text class="r" x="917" y="3350">1 &gt;</text></g>
<g id="deployment_version_naming"><rect class="hd" x="646" y="3385" width="286" height="30"/><rect class="cl" x="646" y="3415" width="286" height="24"/><rect class="cl" x="646" y="3439" width="286" height="24"/><path class="ln" d="M760,3439v24M860,3439v24"/><text class="b" x="653" y="3404">deployment_version_naming</text><text class="r" x="926" y="3405">[table]</text><text x="651" y="3430">...</text><text x="650" y="3455">&lt; 2</text><text class="r" x="856" y="3455">0 rows</text><text class="r" x="928" y="3455">1 &gt;</text></g>
<g id="deployment_result"><rect class="hd" x="1047" y="3420" width="211" height="30"/><rect class="cl" x="1047" y="3450" width="211" height="24"/><rect class="cl" x="1047" y="3474" width="211" height="24"/><path class="ln" d="M1124,3474v24M1203,3474v24"/><text class="b" x="1054" y="3439">deployment_result</text><text class="r" x="1252" y="3440">[table]</text><text x="1052" y="3465">...</text><text x="1051" y="3490">&lt; 4</text><text class="r" x="1199" y="3490">0 rows</text><text class="r" x="1254" y="3490">1 &gt;</text></g>
<g id="deployment_version_item"><rect class="hd" x="1020" y="3526" width="264" height="30"/><rect class="cl" x="1020" y="3556" width="264" height="24"/><rect class="cl" x="1020" y="3580" width="264" height="24"/><path class="ln" d="M1124,3580v24M1217,3580v24"/><text class="b" x="1027" y="3545">deployment_version_item</text><text class="r" x="1278" y="3546">[table]</text><text x="1025" y="3571">...</text><text x="1024" y="3596">&lt; 2</text><text class="r" x="1213" y="3596">0 rows</text><text class="r" x="1280" y="3596">1 &gt;</text></g>
<g id="deployment_version"><rect class="hd" x="678" y="3563" width="222" height="30"/><rect class="cl" x="678" y="3593" width="222" height="24"/><rect class="cl" x="678" y="3617" width="222" height="24"/><path class="ln" d="M760,3617v24M842,3617v24"/><text class="b" x="685" y="3582">deployment_version</text><text class="r" x="894" y="3583">[table]</text><text x="683" y="3608">...</text><text x="682" y="3633">&lt; 4</text><text class="r" x="838" y="3633">0 rows</text><text class="r" x="896" y="3633">6 &gt;</text></g>
<g id="deployment_version_status"><rect class="hd" x="1015" y="3631" width="276" height="30"/><rect class="cl" x="1015" y="3661" width="276" height="24"/><rect class="cl" x="1015" y="3685" width="276" height="24"/><path class="ln" d="M1131,3685v24M1231,3685v24"/><text class="b" x="1022" y="3650">deployment_version_status</text><text class="r" x="1285" y="3651">[table]</text><text x="1020" y="3676">...</text><text x="1019" y="3701">&lt; 2</text><text class="r" x="1227" y="3701">0 rows</text></g>
<g id="elastic_image"><rect class="hd" x="329" y="3586" width="168" height="30"/><rect class="cl" x="329" y="3616" width="168" height="24"/><rect class="cl" x="329" y="3640" width="168" height="24"/><path class="ln" d="M381,3640v24M456,3640v24"/><text class="b" x="336" y="3605">elastic_image</text><text class="r" x="491" y="3606">[table]</text><text x="334" y="3631">...</text><text x="333" y="3656">&lt; 2</text><text class="r" x="452" y="3656">41 rows</text><text class="r" x="493" y="3656">3 &gt;</text></g>
<g id="imserver"><rect class="hd" x="346" y="3691" width="133" height="30"/><rect class="cl" x="346" y="3721" width="133" height="24"/><rect class="cl" x="346" y="3745" width="133" height="24"/><path class="ln" d="M391,3745v24M454,3745v24"/><text class="b" x="353" y="3710">imserver</text><text class="r" x="473" y="3711">[table]</text><text x="351" y="3736">...</text><text x="350" y="3761">&lt; 1</text><text class="r" x="450" y="3761">0 rows</text></g>
<g id="quick_filters"><rect class="hd" x="333" y="3796" width="159" height="30"/><rect class="cl" x="333" y="3826" width="159" height="24"/><rect class="cl" x="333" y="3850" width="159" height="24"/><path class="ln" d="M384,3850v24M451,3850v24"/><text class="b" x="340" y="3815">quick_filters</text><text class="r" x="486" y="3816">[table]</text><text x="338" y="3841">...</text><text x="337" y="3866">&lt; 1</text><text class="r" x="447" y="3866">0 rows</text><text class="r" x="488" y="3866">1 &gt;</text></g>
<g id="quick_filter_rules"><rect class="hd" x="691" y="3830" width="197" height="30"/><rect class="cl" x="691" y="3860" width="197" height="24"/><rect class="cl" x="691" y="3884" width="197" height="24"/><path class="ln" d="M767,3884v24M846,3884v24"/><text class="b" x="698" y="3849">quick_filter_rules</text><text class="r" x="882" y="3850">[table]</text><text x="696" y="3875">...</text><text x="695" y="3900">&lt; 2</text><text class="r" x="842" y="3900">0 rows</text></g>
<g id="trusted_apps"><rect class="hd" x="331" y="3937" width="165" height="30"/><rect class="cl" x="331" y="3967" width="165" height="24"/><rect class="cl" x="331" y="3991" width="165" height="24"/><path class="ln" d="M384,3991v24M453,3991v24"/><text class="b" x="338" y="3956">trusted_apps</text><text class="r" x="490" y="3957">[table]</text><text x="336" y="3982">...</text><text x="335" y="4007">&lt; 1</text><text class="r" x="449" y="4007">0 rows</text><text class="r" x="492" y="4007">2 &gt;</text></g>
<g id="user_comment"><rect class="hd" x="324" y="4042" width="179" height="30"/><rect class="cl" x="324" y="4072" width="179" height="24"/><rect class="cl" x="324" y="4096" width="179" height="24"/><path class="ln" d="M391,4096v24M467,4096v24"/><text class="b" x="331" y="4061">user_comment</text><text class="r" x="497" y="4062">[table]</text><text x="329" y="4087">...</text><text x="328" y="4112">&lt; 1</text><text class="r" x="463" y="4112">0 rows</text></g>
<g id="vcs_branch"><rect class="hd" x="337" y="4148" width="151" height="30"/><rect class="cl" x="337" y="4178" width="151" height="24"/><rect class="cl" x="337" y="4202" width="151" height="24"/><path class="ln" d="M391,4202v24M458,4202v24"/><text class="b" x="344" y="4167">vcs_branch</text><text class="r" x="482" y="4168">[table]</text><text x="342" y="4193">...</text><text x="341" y="4218">&lt; 2</text><text class="r" x="454" y="4218">0 rows</text></g>
<g id="vcs_tag"><rect class="hd" x="730" y="4253" width="119" height="30"/><rect class="cl" x="730" y="4283" width="119" height="24"/><rect class="cl" x="730" y="4307" width="119" height="24"/><path class="ln" d="M767,4307v24M829,4307v24"/><text class="b" x="737" y="4272">vcs_tag</text><text class="r" x="843" y="4273">[table]</text><text x="735" y="4298">...</text><text x="734" y="4323">&lt; 2</text><text class="r" x="825" y="4323">0 rows</text></g>
<g id="vcs_location"><rect class="hd" x="333" y="4289" width="159" height="30"/><rect class="cl" x="333" y="4319" width="159" height="24"/><rect class="cl" x="333" y="4343" width="159" height="24"/><path class="ln" d="M379,4343v24M444,4343v24"/><text class="b" x="340" y="4308">vcs_location</text><text class="r" x="486" y="4309">[table]</text><text x="338" y="4334">...</text><text x="337" y="4359">&lt; 2</text><text class="r" x="440" y="4359">0 rows</text><text class="r" x="488" y="4359">10 &gt;</text></g>
<g id="webhook_response"><rect class="hd" x="307" y="4395" width="210" height="30"/><rect class="cl" x="307" y="4425" width="210" height="24"/><rect class="cl" x="307" y="4449" width="210" height="24"/><path class="ln" d="M391,4449v24M473,4449v24"/><text class="b" x="314" y="4414">webhook_response</text><text class="r" x="511" y="4415">[table]</text><text x="312" y="4440">...</text><text x="311" y="4465">&lt; 2</text><text class="r" x="469" y="4465">0 rows</text></g>
<g id="webhook_template"><rect class="hd" x="306" y="4500" width="213" height="30"/><rect class="cl" x="306" y="4530" width="213" height="24"/><rect class="cl" x="306" y="4554" width="213" height="24"/><path class="ln" d="M391,4554v24M474,4554v24"/><text class="b" x="313" y="4519">webhook_template</text><text class="r" x="513" y="4520">[table]</text><text x="311" y="4545">...</text><text x="310" y="4570">&lt; 1</text><text class="r" x="470" y="4570">2 rows</text></g>
<text x="17" y="4617">Generated by SchemaSpy</text>
</svg>
